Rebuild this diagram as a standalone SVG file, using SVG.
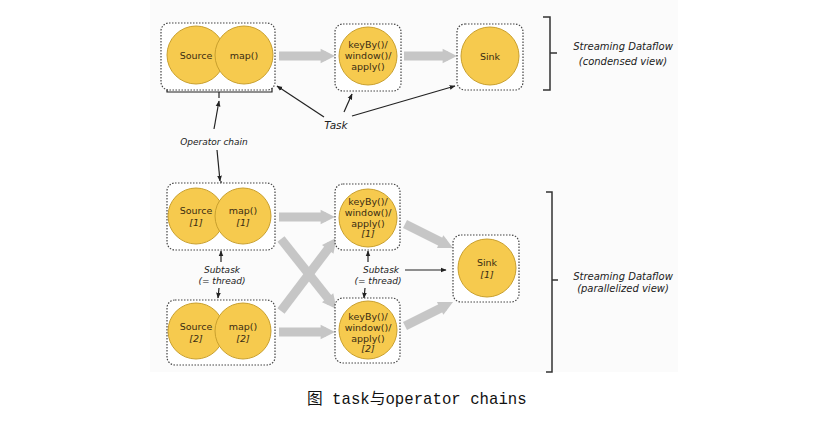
<svg xmlns="http://www.w3.org/2000/svg" width="834" height="435" viewBox="0 0 834 435">
<defs>
<style>
.bg{fill:#ffffff}
.panel{fill:#fbfbfb}
.box{fill:#ffffff;stroke:#444;stroke-width:1.2;stroke-dasharray:1.5 1.5}
.c{fill:#f6ca4e;stroke:#c9a02e;stroke-width:1}
.t{font-family:"DejaVu Sans",Verdana,sans-serif;font-size:9.5px;fill:#3a2c12;text-anchor:middle}
.i{font-family:"DejaVu Sans",Verdana,sans-serif;font-size:9px;font-style:italic;fill:#222;text-anchor:middle}
.sd{font-size:10px}
.tk{font-size:10.5px}
.g{fill:#c6c6c6}
.gl{stroke:#c6c6c6;stroke-width:9;fill:none}
.k{stroke:#222;stroke-width:1.2;fill:none}
.br{stroke:#333;stroke-width:1.5;fill:none}
.cap{font-family:"Liberation Mono","Noto Sans CJK SC",monospace;font-size:15.7px;fill:#111}
</style>
<marker id="ah" viewBox="0 0 10 10" refX="9" refY="5" markerWidth="6" markerHeight="6" orient="auto-start-reverse" markerUnits="userSpaceOnUse">
<path d="M0,1 L10,5 L0,9 z" fill="#222"/>
</marker>
<marker id="gh" viewBox="0 0 10 10" refX="5" refY="5" markerWidth="18" markerHeight="18" orient="auto" markerUnits="userSpaceOnUse">
<path d="M2,1 L10,5 L2,9 z" fill="#c6c6c6"/>
</marker>
</defs>
<rect class="bg" x="0" y="0" width="834" height="435"/>
<rect class="panel" x="150" y="0" width="528" height="372"/>

<g id="connectors">
<line class="gl" x1="279" y1="56" x2="326" y2="56" marker-end="url(#gh)"/>
<line class="gl" x1="404" y1="56" x2="448" y2="56" marker-end="url(#gh)"/>
<line class="gl" x1="279" y1="217" x2="326" y2="217" marker-end="url(#gh)"/>
<line class="gl" x1="279" y1="332" x2="326" y2="332" marker-end="url(#gh)"/>
<line class="gl" x1="281" y1="239" x2="331" y2="302" marker-end="url(#gh)"/>
<line class="gl" x1="281" y1="311" x2="331" y2="245" marker-end="url(#gh)"/>
<line class="gl" x1="405" y1="224" x2="445" y2="244" marker-end="url(#gh)"/>
<line class="gl" x1="405" y1="326" x2="445" y2="306" marker-end="url(#gh)"/>
<line class="k" x1="324" y1="117" x2="277" y2="86" marker-end="url(#ah)"/>
<line class="k" x1="344" y1="112" x2="352" y2="94" marker-end="url(#ah)"/>
<line class="k" x1="352" y1="116" x2="455" y2="86" marker-end="url(#ah)"/>
<line class="k" x1="214" y1="129" x2="219" y2="101" marker-end="url(#ah)"/>
<line class="k" x1="217" y1="150" x2="220" y2="181" marker-end="url(#ah)"/>
<line class="k" x1="221" y1="262" x2="221" y2="251" marker-end="url(#ah)"/>
<line class="k" x1="219" y1="288" x2="218" y2="298" marker-end="url(#ah)"/>
<line class="k" x1="368" y1="262" x2="368" y2="251" marker-end="url(#ah)"/>
<line class="k" x1="365" y1="288" x2="364" y2="298" marker-end="url(#ah)"/>
<line class="k" x1="405" y1="270" x2="446" y2="270" marker-end="url(#ah)"/>
<path class="k" d="M167,86 V92 H272 V86 M219,92 V98"/>
<path class="k" d="M170,194 V188 H272 V194 M221,188 V181"/>
</g>

<g id="top-chain">
<rect class="box" x="161" y="23" width="114" height="67" rx="8"/>
<circle class="c" cx="196" cy="55" r="29"/>
<circle class="c" cx="244" cy="55" r="29"/>
<text class="t" x="196" y="59">Source</text>
<text class="t" x="244" y="59">map()</text>
</g>
<g id="top-keyby">
<rect class="box" x="335" y="24" width="66" height="67" rx="8"/>
<circle class="c" cx="368" cy="56" r="29"/>
<text class="t" x="368" y="48">keyBy()/</text>
<text class="t" x="368" y="59">window()/</text>
<text class="t" x="368" y="70">apply()</text>
</g>
<g id="top-sink">
<rect class="box" x="457" y="24" width="66" height="66" rx="8"/>
<circle class="c" cx="490" cy="56" r="29"/>
<text class="t" x="490" y="60">Sink</text>
</g>

<g id="chain-1">
<rect class="box" x="167" y="183" width="108" height="67" rx="8"/>
<circle class="c" cx="196" cy="216" r="28"/>
<circle class="c" cx="243" cy="216" r="28"/>
<text class="t" x="196" y="214">Source</text>
<text class="t" x="196" y="226" font-style="italic">[1]</text>
<text class="t" x="243" y="214">map()</text>
<text class="t" x="243" y="226" font-style="italic">[1]</text>
</g>
<g id="chain-2">
<rect class="box" x="167" y="300" width="108" height="65" rx="8"/>
<circle class="c" cx="196" cy="331" r="28"/>
<circle class="c" cx="243" cy="331" r="28"/>
<text class="t" x="196" y="330">Source</text>
<text class="t" x="196" y="342" font-style="italic">[2]</text>
<text class="t" x="243" y="330">map()</text>
<text class="t" x="243" y="342" font-style="italic">[2]</text>
</g>
<g id="keyby-1">
<rect class="box" x="335" y="184" width="65" height="66" rx="8"/>
<circle class="c" cx="368" cy="218" r="29"/>
<text class="t" x="368" y="205">keyBy()/</text>
<text class="t" x="368" y="216">window()/</text>
<text class="t" x="368" y="227">apply()</text>
<text class="t" x="368" y="237" font-style="italic">[1]</text>
</g>
<g id="keyby-2">
<rect class="box" x="335" y="298" width="65" height="65" rx="8"/>
<circle class="c" cx="368" cy="330" r="29"/>
<text class="t" x="368" y="320">keyBy()/</text>
<text class="t" x="368" y="331">window()/</text>
<text class="t" x="368" y="342">apply()</text>
<text class="t" x="368" y="352" font-style="italic">[2]</text>
</g>
<g id="sink-1">
<rect class="box" x="453" y="235" width="66" height="67" rx="8"/>
<circle class="c" cx="487" cy="268" r="29"/>
<text class="t" x="487" y="266">Sink</text>
<text class="t" x="487" y="278" font-style="italic">[1]</text>
</g>

<g id="labels">
<text class="i tk" x="336" y="129">Task</text>
<text class="i" x="214" y="145">Operator chain</text>
<text class="i" x="222" y="273">Subtask</text>
<text class="i" x="222" y="284">(= thread)</text>
<text class="i" x="381" y="273">Subtask</text>
<text class="i" x="378" y="284">(= thread)</text>
</g>

<g id="condensed-bracket">
<path class="br" d="M543,17 H550 V90 H543 M550,53 H557"/>
<text class="i sd" x="623" y="50">Streaming Dataflow</text>
<text class="i sd" x="623" y="65">(condensed view)</text>
</g>
<g id="parallel-bracket">
<path class="br" d="M546,192 H552 V372 H546 M552,280 H558"/>
<text class="i sd" x="623" y="280">Streaming Dataflow</text>
<text class="i sd" x="623" y="292">(parallelized view)</text>
</g>

<text class="cap" x="307" y="404">图 task与operator chains</text>
</svg>
